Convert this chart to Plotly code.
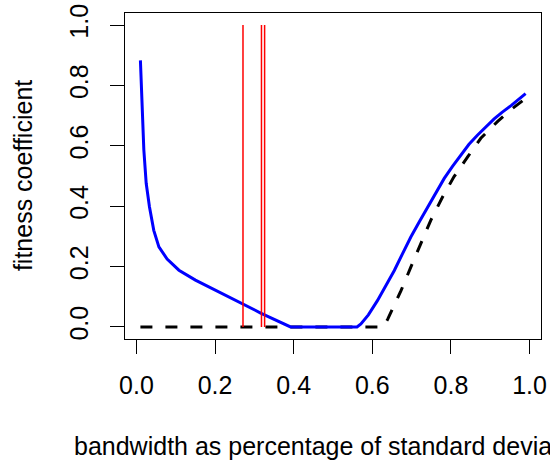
import plotly.graph_objects as go

# Blue curve (fitness coefficient)
blue_x = [0.01, 0.0145, 0.0187, 0.0247, 0.033, 0.044, 0.057, 0.078, 0.108, 0.15, 0.2, 0.265, 0.316, 0.392,
          0.561, 0.571, 0.59, 0.613, 0.635, 0.656, 0.677, 0.698, 0.72, 0.741, 0.762, 0.783, 0.804, 0.825,
          0.846, 0.868, 0.89, 0.91, 0.93, 0.953, 0.99]
blue_y = [0.883, 0.753, 0.587, 0.476, 0.398, 0.32, 0.265, 0.225, 0.188, 0.155, 0.122, 0.079, 0.046, 0.0,
          0.0, 0.01, 0.04, 0.087, 0.136, 0.187, 0.243, 0.298, 0.349, 0.398, 0.446, 0.492, 0.532, 0.570,
          0.605, 0.636, 0.664, 0.689, 0.711, 0.733, 0.773]

# Black dashed curve
black_x = [0.01, 0.611, 0.628, 0.639, 0.673, 0.698, 0.724, 0.749, 0.779, 0.808, 0.843, 0.876, 0.919, 0.953, 0.99]
black_y = [0.0, 0.0, 0.0, 0.025, 0.12, 0.198, 0.276, 0.354, 0.431, 0.498, 0.564, 0.625, 0.681, 0.72, 0.757]

# Red vertical lines
red_x = [0.271, 0.318, 0.326]
red_y0 = 0.0
red_y1 = 1.0

tick_vals = [0.0, 0.2, 0.4, 0.6, 0.8, 1.0]
tick_text = ["0.0", "0.2", "0.4", "0.6", "0.8", "1.0"]

x_title = "bandwidth as percentage of standard deviation"
y_title = "fitness coefficient"

FONT = "Liberation Sans, Arial, Helvetica, sans-serif"
FS = 25

rx, ry = [], []
for v in red_x:
    rx += [v, v, None]
    ry += [red_y0, red_y1, None]

fig = go.Figure()
fig.add_trace(go.Scatter(x=black_x, y=black_y, mode="lines",
                         line=dict(color="black", width=3, dash="12px,13px")))
fig.add_trace(go.Scatter(x=blue_x, y=blue_y, mode="lines",
                         line=dict(color="#0000FF", width=3)))
fig.add_trace(go.Scatter(x=rx, y=ry, mode="lines",
                         line=dict(color="#FF0000", width=1.5)))

axis_common = dict(showgrid=False, zeroline=False, showline=True, mirror=True,
                   linecolor="black", linewidth=1, ticks="outside", ticklen=14,
                   tickwidth=1, tickcolor="black", tickvals=tick_vals, ticktext=tick_text,
                   automargin=False,
                   tickfont=dict(family=FONT, size=FS, color="black"))

fig.update_layout(
    template="none",
    width=550, height=460,
    margin=dict(l=125, r=9, t=13, b=121),
    paper_bgcolor="white", plot_bgcolor="white",
    showlegend=False,
    xaxis=dict(range=[-0.0292, 1.0292], ticklabelstandoff=10, **axis_common),
    yaxis=dict(range=[-0.04, 1.04], tickangle=-90, ticklabelstandoff=12, **axis_common),
    annotations=[
        dict(text=x_title, xref="paper", yref="paper", x=0.5, y=-0.3267,
             xanchor="center", yanchor="middle", showarrow=False,
             font=dict(family=FONT, size=FS, color="black")),
        dict(text=y_title, xref="paper", yref="paper", x=-0.245, y=0.5,
             xanchor="center", yanchor="middle", showarrow=False, textangle=-90,
             font=dict(family=FONT, size=FS, color="black")),
    ],
)

fig.write_html("out.html", config={"displayModeBar": False},
               post_script="document.body.style.margin='0';document.body.style.overflow='hidden';")
